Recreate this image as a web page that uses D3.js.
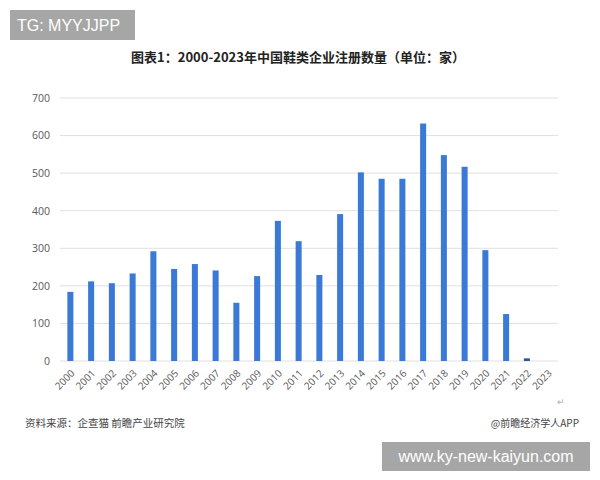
<!DOCTYPE html>
<html><head><meta charset="utf-8">
<script src="https://cdn.jsdelivr.net/npm/d3@7"></script>
<style>body{margin:0;background:#fff}svg{display:block}</style>
</head><body>
<svg id="c" width="600" height="480"></svg>
<script>
const years = ["2000","2001","2002","2003","2004","2005","2006","2007","2008","2009","2010","2011","2012","2013","2014","2015","2016","2017","2018","2019","2020","2021","2022","2023"];
const counts = [184,212,207,233,292,245,258,241,155,226,373,319,229,391,502,485,485,632,548,517,295,125,7,0];
const yTicks = [0,100,200,300,400,500,600,700];
const titleText = "图表1：2000-2023年中国鞋类企业注册数量（单位：家）";
const sourceText = "资料来源：企查猫 前瞻产业研究院";
const creditText = "@前瞻经济学人APP";

const svg = d3.select("#c");
const cjk = "'Noto Sans CJK SC','Noto Sans',sans-serif";
const m = {left:60, right:42, top:98, bottom:119};
const W = 600, H = 480;
const x = d3.scaleBand().domain(years).range([m.left, W - m.right]).paddingInner(0.71).paddingOuter(0.355);
const y = d3.scaleLinear().domain([0,700]).range([H - m.bottom, m.top]);

svg.append("rect").attr("width",W).attr("height",H).attr("fill","#fff");

// grid
svg.append("g").selectAll("line").data(yTicks).join("line")
  .attr("x1", m.left).attr("x2", W - m.right)
  .attr("y1", d => y(d)).attr("y2", d => y(d))
  .attr("stroke", "#e0e0e0").attr("stroke-width", 1);

// y axis labels
const ya = svg.append("g").attr("transform", `translate(${m.left},0)`)
  .call(d3.axisLeft(y).tickValues(yTicks).tickSize(0).tickPadding(10));
ya.select(".domain").remove();
ya.selectAll("text").attr("fill","#595959").style("font-family","'Open Sans','Noto Sans',sans-serif").style("font-size","10.5px");

// bars
svg.append("g").selectAll("rect").data(years).join("rect")
  .attr("x", d => x(d)).attr("width", x.bandwidth())
  .attr("y", (d,i) => y(counts[i]))
  .attr("height", (d,i) => y(0) - y(counts[i]))
  .attr("fill", (d,i) => counts[i] < 20 ? "#2f5597" : "#3a7ad6");

// x axis labels
const xa = svg.append("g").attr("transform", `translate(0,${y(0)})`)
  .call(d3.axisBottom(x).tickSize(0).tickPadding(0));
xa.select(".domain").remove();
xa.selectAll("text")
  .attr("fill","#595959").style("font-family","'Open Sans','Noto Sans',sans-serif").style("font-size","10px")
  .attr("text-anchor","end").attr("dy","0")
  .attr("transform","translate(5,13) rotate(-45)");

// title
svg.append("text").attr("x", 298).attr("y", 62).attr("text-anchor","middle")
  .style("font-family", cjk).style("font-size","13px").style("font-weight","bold").attr("fill","#222")
  .text(titleText);

// source & credit
svg.append("text").attr("x", 25).attr("y", 427)
  .style("font-family", cjk).style("font-size","10.5px").attr("fill","#444").text(sourceText);
svg.append("text").attr("x", 579).attr("y", 427).attr("text-anchor","end")
  .style("font-family", cjk).style("font-size","10px").attr("fill","#444").text(creditText);
svg.append("text").attr("x", 557).attr("y", 405)
  .style("font-size","9px").attr("fill","#aaa").text("↵");

// overlay boxes
svg.append("rect").attr("x",10).attr("y",10).attr("width",125).attr("height",30).attr("fill","#a6a6a6");
svg.append("text").attr("x",17).attr("y",31).style("font-family","'Liberation Sans',Arial,sans-serif")
  .style("font-size","16px").attr("fill","#fff").text("TG: MYYJJPP");
svg.append("rect").attr("x",382).attr("y",442).attr("width",208).attr("height",29).attr("fill","#a6a6a6");
svg.append("text").attr("x",486).attr("y",462).attr("text-anchor","middle").style("font-family","'Liberation Sans',Arial,sans-serif")
  .style("font-size","16px").attr("fill","#fff").text("www.ky-new-kaiyun.com");
</script>
</body></html>
